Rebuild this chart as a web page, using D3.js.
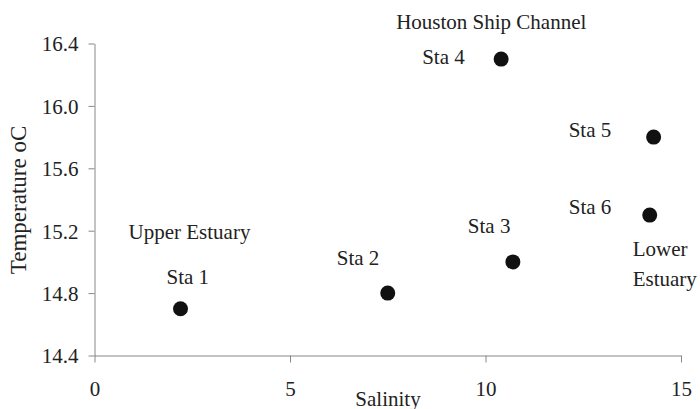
<!DOCTYPE html>
<html><head><meta charset="utf-8">
<script src="https://cdn.jsdelivr.net/npm/d3@7"></script>
</head>
<body style="margin:0"><svg id="c" width="700" height="409"></svg>
<script>
const stations = ["Sta 1","Sta 2","Sta 3","Sta 4","Sta 5","Sta 6"];
const salinity = [2.2, 7.5, 10.7, 10.4, 14.3, 14.2];
const temperature = [14.7, 14.8, 15.0, 16.3, 15.8, 15.3];
const xTicks = [0, 5, 10, 15];
const yTicks = [14.4, 14.8, 15.2, 15.6, 16.0, 16.4];
const labelOffsets = [[-14,-25],[-51,-28],[-45,-29],[-79,5],[-85,0],[-81,-1]];
const notes = [
  {text:"Houston Ship Channel", x:10.4, y:16.3, dx:-105, dy:-30},
  {text:"Upper Estuary", x:2.2, y:14.7, dx:-52, dy:-70},
  {text:"Lower", x:14.2, y:15.3, dx:-17, dy:41},
  {text:"Estuary", x:14.2, y:15.3, dx:-17, dy:71}
];

const FONT = '"Liberation Serif"';
const fs = 21;
const svg = d3.select("#c");
const x = d3.scaleLinear().domain([0,15]).range([94.5,681]);
const y = d3.scaleLinear().domain([14.4,16.4]).range([355.5,43.5]);

const xa = svg.append("g").attr("transform","translate(0,355.5)")
  .call(d3.axisBottom(x).tickValues(xTicks).tickFormat(d3.format("d")).tickSize(7).tickSizeOuter(0));
xa.attr("font-family",null).attr("font-size",null);
xa.select(".domain").attr("stroke","#888");
xa.selectAll(".tick line").attr("stroke","#888");
xa.selectAll(".tick text").style("font-family",FONT).attr("font-size",fs).attr("fill","#222").attr("y",26).attr("dy","0.71em");

const ya = svg.append("g").attr("transform","translate(94.5,0)")
  .call(d3.axisLeft(y).tickValues(yTicks).tickFormat(d3.format(".1f")).tickSize(6).tickSizeOuter(0));
ya.attr("font-family",null).attr("font-size",null);
ya.select(".domain").attr("stroke","#888");
ya.selectAll(".tick line").attr("stroke","#888");
ya.selectAll(".tick text").style("font-family",FONT).attr("font-size",fs).attr("fill","#222").attr("x",-16).attr("dy","0.35em");

svg.append("text").attr("x",388).attr("y",406).attr("text-anchor","middle")
  .style("font-family",FONT).attr("font-size",fs).attr("fill","#222").text("Salinity");
svg.append("text").attr("transform","translate(26,200) rotate(-90)").attr("text-anchor","middle")
  .style("font-family",FONT).attr("font-size",23).attr("fill","#222").text("Temperature oC");

svg.selectAll("circle.pt").data(stations).enter().append("circle")
  .attr("class","pt").attr("cx",(d,i)=>x(salinity[i])).attr("cy",(d,i)=>y(temperature[i])).attr("r",7.5).attr("fill","#111");

svg.selectAll("text.lab").data(stations).enter().append("text").attr("class","lab")
  .attr("x",(d,i)=>x(salinity[i])+labelOffsets[i][0]).attr("y",(d,i)=>y(temperature[i])+labelOffsets[i][1])
  .style("font-family",FONT).attr("font-size",fs).attr("fill","#222").text(d=>d);

svg.selectAll("text.note").data(notes).enter().append("text").attr("class","note")
  .attr("x",d=>x(d.x)+d.dx).attr("y",d=>y(d.y)+d.dy)
  .style("font-family",FONT).attr("font-size",fs).attr("fill","#222").text(d=>d.text);
</script></body></html>
